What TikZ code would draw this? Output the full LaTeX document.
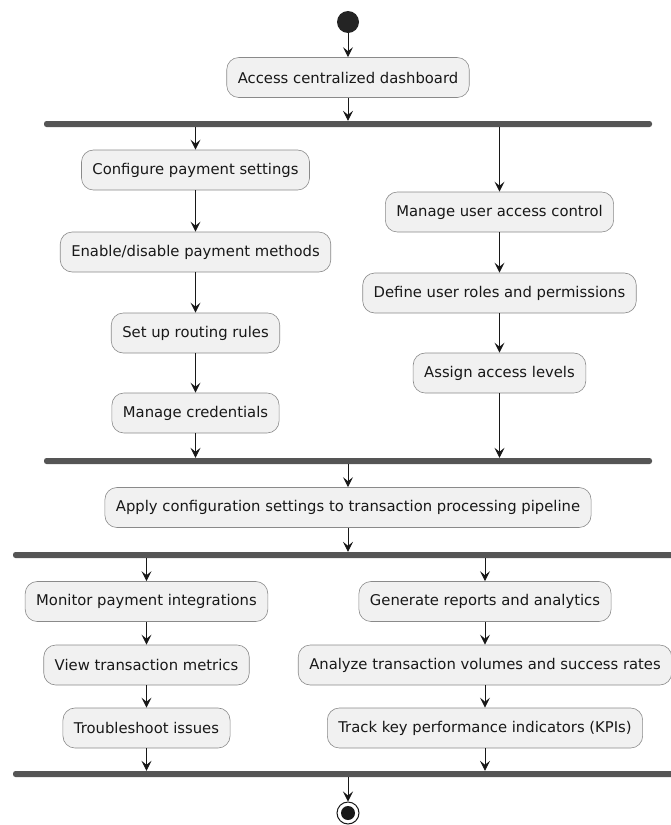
\documentclass[tikz,border=0pt]{standalone}
\usepackage{fontspec}
\setmainfont{DejaVu Sans}
\usetikzlibrary{arrows.meta,positioning}

\definecolor{actfill}{HTML}{F1F1F1}
\definecolor{actline}{HTML}{8A8A8A}
\definecolor{barfill}{HTML}{555555}
\definecolor{ink}{HTML}{181818}

\tikzset{
	act/.style={draw=actline, fill=actfill, line width=0.6pt, rounded corners=12pt,
		minimum height=40pt, inner xsep=11pt, font=\fontsize{14.8}{17}\selectfont, text=ink},
	bar/.style={fill=barfill, rounded corners=2.5pt, minimum height=6pt, inner sep=0pt},
	flow/.style={draw=ink, line width=0.9pt, -{Stealth[length=10pt,width=10pt,inset=4pt]}},
}

\begin{document}
\begin{tikzpicture}[x=1pt,y=-1pt]
		\useasboundingbox (0,0) rectangle (671,825);

		\node[circle, fill=ink!95, minimum size=22pt, inner sep=0pt] (start) at (348,22) {};
		\node[act] (dash) at (348,77.5) {Access centralized dashboard};
		\node[bar, minimum width=608pt] (fork1) at (348,124) {};

		\node[act] (cfg)    at (195.5,170) {Configure payment settings};
		\node[act] (enable) at (195.5,252) {Enable/disable payment methods};
		\node[act] (route)  at (195.5,333) {Set up routing rules};
		\node[act] (creds)  at (195.5,413) {Manage credentials};

		\node[act] (users)  at (499.5,212) {Manage user access control};
		\node[act] (roles)  at (499.5,293) {Define user roles and permissions};
		\node[act] (levels) at (499.5,373) {Assign access levels};

		\node[bar, minimum width=608pt] (fork2) at (348,461) {};
		\node[act] (apply) at (348,507.5) {Apply configuration settings to transaction processing pipeline};
		\node[bar, minimum width=670pt] (fork3) at (348,555) {};

		\node[act] (monitor) at (146.5,601.5) {Monitor payment integrations};
		\node[act] (metrics) at (146.5,665)   {View transaction metrics};
		\node[act] (trouble) at (146.5,728)   {Troubleshoot issues};

		\node[act] (reports) at (485,601.5) {Generate reports and analytics};
		\node[act] (volumes) at (485,665)   {Analyze transaction volumes and success rates};
		\node[act] (kpis)    at (485,728)   {Track key performance indicators (KPIs)};

		\node[bar, minimum width=670pt] (fork4) at (348,774) {};
		\node[circle, draw=ink, line width=1pt, fill=white, minimum size=22pt, inner sep=0pt] (stop) at (348,813) {};
		\fill[ink] (stop.center) circle (7pt);

		\draw[flow] (start) -- (dash);
		\draw[flow] (dash) -- (fork1);

		\draw[flow] (fork1.south -| cfg) -- (cfg);
		\draw[flow] (cfg) -- (enable);
		\draw[flow] (enable) -- (route);
		\draw[flow] (route) -- (creds);
		\draw[flow] (creds) -- (creds |- fork2.north);

		\draw[flow] (fork1.south -| users) -- (users);
		\draw[flow] (users) -- (roles);
		\draw[flow] (roles) -- (levels);
		\draw[flow] (levels) -- (levels |- fork2.north);

		\draw[flow] (fork2) -- (apply);
		\draw[flow] (apply) -- (fork3);

		\draw[flow] (fork3.south -| monitor) -- (monitor);
		\draw[flow] (monitor) -- (metrics);
		\draw[flow] (metrics) -- (trouble);
		\draw[flow] (trouble) -- (trouble |- fork4.north);

		\draw[flow] (fork3.south -| reports) -- (reports);
		\draw[flow] (reports) -- (volumes);
		\draw[flow] (volumes) -- (kpis);
		\draw[flow] (kpis) -- (kpis |- fork4.north);

		\draw[flow] (fork4) -- (stop);
	\end{tikzpicture}
\end{document}
